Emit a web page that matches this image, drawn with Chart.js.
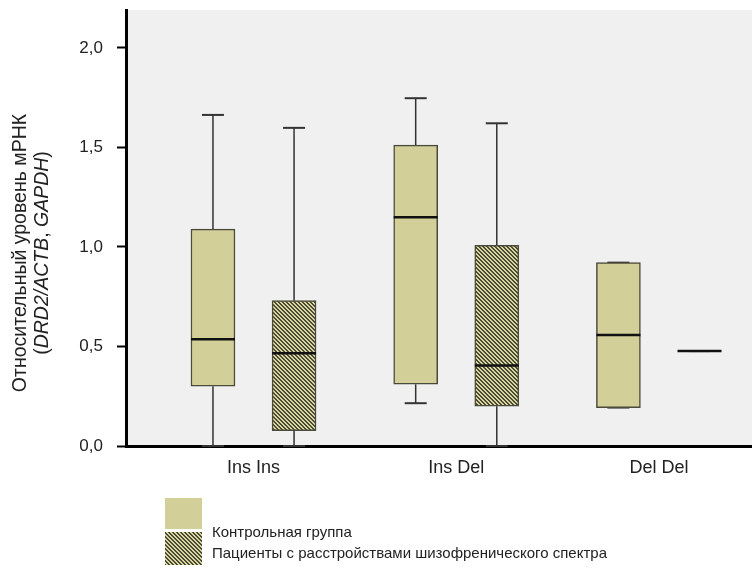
<!DOCTYPE html>
<html>
<head>
<meta charset="utf-8">
<script src="https://cdn.jsdelivr.net/npm/chart.js@4/dist/chart.umd.min.js"></script>
<style>
  html, body { margin: 0; padding: 0; background: #fff; }
  #wrap { width: 752px; height: 567px; position: relative; }
</style>
</head>
<body>
<div id="wrap"><canvas id="c"></canvas></div>
<script>
const categories = ['Ins Ins', 'Ins Del', 'Del Del'];
const seriesNames = ['Контрольная группа', 'Пациенты с расстройствами шизофренического спектра'];

const controlMin    = [0.00, 0.215, 0.193];
const controlQ1     = [0.30, 0.31, 0.193];
const controlMedian = [0.536, 1.149, 0.558];
const controlQ3     = [1.089, 1.511, 0.921];
const controlMax    = [1.663, 1.747, 0.921];

const patientMin    = [0.00, 0.00, 0.477];
const patientQ1     = [0.077, 0.20, 0.477];
const patientMedian = [0.466, 0.404, 0.477];
const patientQ3     = [0.73, 1.008, 0.477];
const patientMax    = [1.598, 1.621, 0.477];

const yTicks = [0, 0.5, 1.0, 1.5, 2.0];

const FONT = '"Liberation Sans", Arial, sans-serif';
const KHAKI = '#d3cf98';
const OFF = 0.2;

// diagonal hatch tile
function makeHatch(ctx) {
  const tile = document.createElement('canvas');
  tile.width = 4; tile.height = 4;
  const t = tile.getContext('2d');
  const img = t.createImageData(4, 4);
  for (let y = 0; y < 4; y++) {
    for (let x = 0; x < 4; x++) {
      const k = (y * 4 + x) * 4;
      const dark = ((x - y + 8) % 4) < 2;
      img.data[k] = dark ? 0x4b : 0xd8;
      img.data[k + 1] = dark ? 0x4a : 0xd5;
      img.data[k + 2] = dark ? 0x32 : 0xa2;
      img.data[k + 3] = 255;
    }
  }
  t.putImageData(img, 0, 0);
  return ctx.createPattern(tile, 'repeat');
}

const canvas = document.getElementById('c');
const hatch = makeHatch(canvas.getContext('2d'));

const stats = [
  { min: controlMin, q1: controlQ1, med: controlMedian, q3: controlQ3, max: controlMax, off: -OFF },
  { min: patientMin, q1: patientQ1, med: patientMedian, q3: patientQ3, max: patientMax, off: OFF }
];

const boxPlot = {
  id: 'boxPlot',
  beforeDraw(chart) {
    const { ctx, chartArea: a } = chart;
    ctx.save();
    ctx.fillStyle = '#f0f0f0';
    ctx.fillRect(a.left, a.top, a.right - a.left, a.bottom - a.top);
    ctx.restore();
  },
  beforeDatasetsDraw(chart) {
    const { ctx, scales: { x, y } } = chart;
    ctx.save();
    ctx.strokeStyle = '#333';
    stats.forEach(s => {
      categories.forEach((c, i) => {
        const px = x.getPixelForValue(i + s.off);
        ctx.lineWidth = 1.5;
        ctx.beginPath();
        ctx.moveTo(px, y.getPixelForValue(s.max[i]));
        ctx.lineTo(px, y.getPixelForValue(s.q3[i]));
        ctx.moveTo(px, y.getPixelForValue(s.q1[i]));
        ctx.lineTo(px, y.getPixelForValue(s.min[i]));
        ctx.stroke();
        ctx.lineWidth = 2;
        [s.max[i], s.min[i]].forEach(v => {
          const py = y.getPixelForValue(v);
          ctx.beginPath();
          ctx.moveTo(px - 11, py);
          ctx.lineTo(px + 11, py);
          ctx.stroke();
        });
      });
    });
    ctx.restore();
  },
  afterDatasetsDraw(chart) {
    const { ctx, scales: { x, y } } = chart;
    ctx.save();
    ctx.strokeStyle = '#111';
    ctx.lineWidth = 2.5;
    stats.forEach(s => {
      categories.forEach((c, i) => {
        const px = x.getPixelForValue(i + s.off);
        const py = y.getPixelForValue(s.med[i]);
        ctx.beginPath();
        ctx.moveTo(px - 22, py);
        ctx.lineTo(px + 22, py);
        ctx.stroke();
      });
    });
    ctx.restore();
  },
  afterDraw(chart) {
    const ctx = chart.ctx;
    ctx.save();
    // y axis title, second line partly italic
    const tf = '19.5px ' + FONT;
    ctx.fillStyle = '#222';
    ctx.translate(21, 253);
    ctx.rotate(-Math.PI / 2);
    ctx.textAlign = 'center';
    ctx.textBaseline = 'middle';
    ctx.font = tf;
    ctx.fillText('Относительный уровень мРНК', 0, 0);
    const parts = [['(', false], ['DRD2/ACTB', true], [', ', false], ['GAPDH', true], [')', false]];
    let total = 0;
    parts.forEach(p => {
      ctx.font = (p[1] ? 'italic ' : '') + tf;
      total += ctx.measureText(p[0]).width;
    });
    let cx = -total / 2;
    ctx.textAlign = 'left';
    parts.forEach(p => {
      ctx.font = (p[1] ? 'italic ' : '') + tf;
      ctx.fillText(p[0], cx, 22);
      cx += ctx.measureText(p[0]).width;
    });
    ctx.restore();

    // legend
    ctx.save();
    const ds = chart.data.datasets;
    ctx.fillStyle = ds[0].backgroundColor;
    ctx.fillRect(165, 498, 37, 31);
    ctx.fillStyle = ds[1].backgroundColor;
    ctx.fillRect(165, 532, 37, 33);
    ctx.fillStyle = '#222';
    ctx.font = '15px ' + FONT;
    ctx.textBaseline = 'alphabetic';
    ctx.fillText(ds[0].label, 212, 537);
    ctx.fillText(ds[1].label, 212, 558);
    ctx.restore();
  }
};

new Chart(canvas, {
  type: 'bar',
  data: {
    datasets: [
      {
        label: seriesNames[0],
        data: categories.map((c, i) => ({ x: i - OFF, y: [controlQ1[i], controlQ3[i]] })),
        backgroundColor: KHAKI,
        borderColor: '#4a4a3a',
        borderWidth: 1.5,
        borderSkipped: false,
        barThickness: 44,
        grouped: false
      },
      {
        label: seriesNames[1],
        data: categories.map((c, i) => ({ x: i + OFF, y: [patientQ1[i], patientQ3[i]] })),
        backgroundColor: hatch,
        borderColor: '#4a4a3a',
        borderWidth: 1.5,
        borderSkipped: false,
        barThickness: 44,
        grouped: false
      }
    ]
  },
  options: {
    responsive: true,
    maintainAspectRatio: false,
    animation: false,
    devicePixelRatio: 1,
    layout: { padding: { top: 10, left: 0, right: 0, bottom: 0 } },
    plugins: {
      legend: { display: false },
      tooltip: { enabled: false }
    },
    scales: {
      x: {
        type: 'linear',
        offset: false,
        bounds: 'data',
        min: -0.629,
        max: 2.459,
        afterBuildTicks: s => { s.ticks = categories.map((c, i) => ({ value: i })); },
        afterFit: s => { s.height = 121; s.paddingLeft = 0; s.paddingRight = 0; },
        ticks: {
          callback: (v, i) => categories[i],
          font: { family: FONT, size: 18 },
          color: '#222',
          padding: 3,
          maxRotation: 0,
          autoSkip: false
        },
        grid: { display: false },
        border: { color: '#000', width: 3 }
      },
      y: {
        min: 0,
        max: 2.19,
        afterBuildTicks: s => { s.ticks = yTicks.map(v => ({ value: v })); },
        afterFit: s => { s.width = 126; s.paddingTop = 0; s.paddingBottom = 0; },
        ticks: {
          callback: v => v.toFixed(1).replace('.', ','),
          font: { family: FONT, size: 17 },
          color: '#222',
          padding: 14
        },
        grid: {
          drawOnChartArea: false,
          drawTicks: true,
          tickLength: 9,
          tickWidth: 2,
          tickColor: '#000'
        },
        border: { color: '#000', width: 3 }
      }
    }
  },
  plugins: [boxPlot]
});
</script>
</body>
</html>
